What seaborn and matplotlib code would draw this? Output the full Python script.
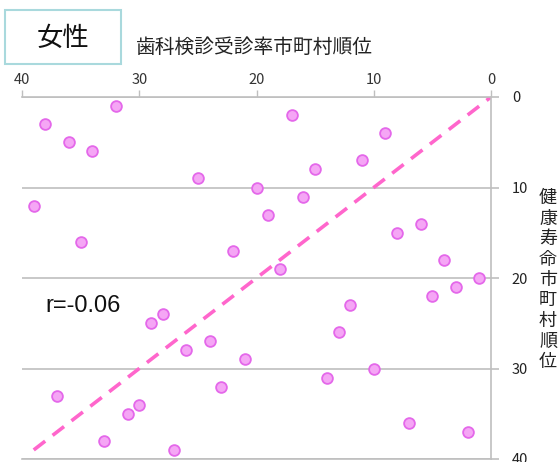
import matplotlib
matplotlib.use("Agg")
import matplotlib.pyplot as plt
import matplotlib.patches as patches
import pandas as pd
import seaborn as sns

# 歯科検診受診率の順位 (x) と 健康寿命の順位 (y)
dental_rank = [32, 38, 36, 34, 25, 20, 19, 39, 35, 17, 9, 11, 15, 16, 8, 6, 22, 18, 4, 1,
               3, 5, 12, 13, 28, 29, 26, 24, 21, 37, 30, 31, 33, 27, 23, 14, 10, 7, 2]
health_rank = [1, 3, 5, 6, 9, 10, 13, 12, 16, 2, 4, 7, 8, 11, 15, 14, 17, 19, 18, 20,
               21, 22, 23, 26, 24, 25, 28, 27, 29, 33, 34, 35, 38, 39, 32, 31, 30, 36, 37]
diag_x = [39, 0]
diag_y = [39, 0]
x_ticks = [40, 30, 20, 10, 0]
y_ticks = [0, 10, 20, 30, 40]
r_label = "r=-0.06"

df = pd.DataFrame({"dental": dental_rank, "health": health_rank})
diag = pd.DataFrame({"x": diag_x, "y": diag_y})

sns.set_theme(style="white")
plt.rcParams["font.family"] = ["Noto Sans CJK JP", "DejaVu Sans"]

fig = plt.figure(figsize=(5.58, 4.62), dpi=100)
ax = fig.add_axes([22 / 558, 3 / 462, 469 / 558, 362 / 462])

grid_c = "#bfbfbf"

sns.lineplot(data=diag, x="x", y="y", ax=ax, color="#ff66cc", linewidth=2.6,
             dashes=False, zorder=2, sort=False)
ax.lines[0].set_dashes((4, 2.6))

sns.scatterplot(data=df, x="dental", y="health", ax=ax, s=60,
                color="#f5a6f5", edgecolor="#e468ea", linewidth=1.3, zorder=3)

ax.set_xlim(40, 0)
ax.set_ylim(40, 0)
ax.set_xticks(x_ticks)
ax.set_yticks(y_ticks)
ax.xaxis.tick_top()
ax.yaxis.tick_right()
ax.set_xlabel("")
ax.set_ylabel("")

ax.yaxis.grid(True, color=grid_c, linewidth=1.2)
ax.xaxis.grid(False)
ax.set_axisbelow(True)

for side in ["top", "right", "bottom"]:
    ax.spines[side].set_visible(True)
    ax.spines[side].set_color(grid_c)
    ax.spines[side].set_linewidth(1.2)
ax.spines["left"].set_visible(False)

ax.tick_params(axis="x", direction="out", length=5, width=1, color=grid_c,
               labelsize=10.5, labelcolor="#333333", pad=2, top=True, bottom=False)
ax.tick_params(axis="y", direction="out", length=6, width=1.2, color=grid_c,
               labelsize=10.5, labelcolor="#222222", pad=9, right=True, left=False)

ax.text(38, 23.1, r_label, fontsize=17, va="center", ha="left",
        family=["Liberation Sans", "DejaVu Sans"], color="#111111")

# タイトル
fig.text(136 / 558, 1 - 47 / 462, "歯科検診受診率市町村順位", fontsize=14.2,
         ha="left", va="center", color="#222222")

# 女性ボックス
fig.patches.append(patches.Rectangle((5 / 558, 1 - 64 / 462), 116 / 558, 54 / 462,
                                     transform=fig.transFigure, fill=False,
                                     edgecolor="#a9d9dd", linewidth=1.5))
fig.text(63 / 558, 1 - 38 / 462, "女性", fontsize=19, ha="center", va="center",
         color="#111111")

# 縦書きのy軸ラベル
fig.text(539 / 558, 1 - 280 / 462, "\n".join("健康寿命市町村順位"), fontsize=13,
         ha="left", va="center", linespacing=1.17, color="#222222")

fig.savefig("out.png", dpi=100)
